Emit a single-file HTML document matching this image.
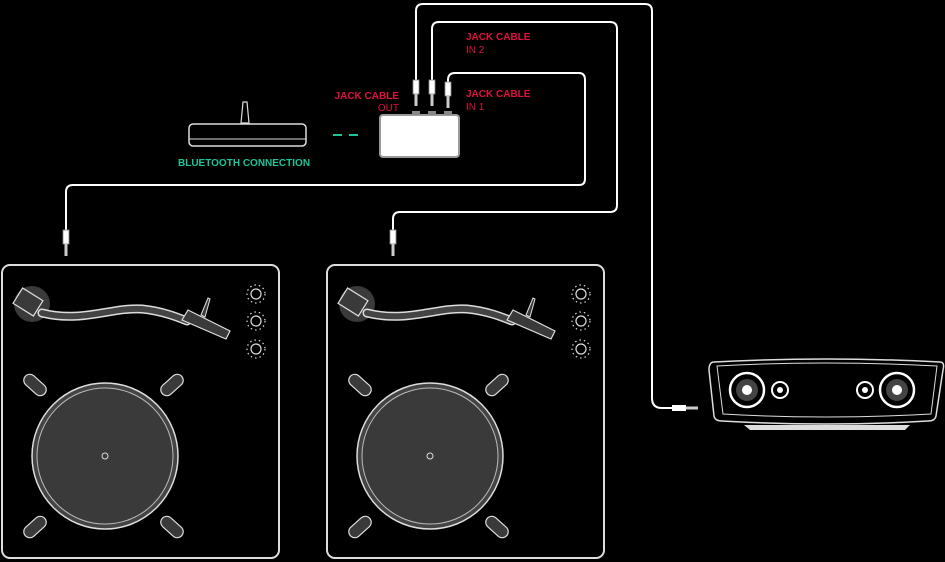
<!DOCTYPE html>
<html><head><style>
html,body{margin:0;padding:0;background:#000;width:945px;height:562px;overflow:hidden}
svg{display:block}
text{font-family:"Liberation Sans",sans-serif;font-weight:bold;font-size:10px}
</style></head><body>
<svg width="945" height="562" viewBox="0 0 945 562">
<defs>
<g id="tt">
  <rect x="0" y="0" width="277" height="293" rx="8" fill="#000" stroke="#ddd" stroke-width="2"/>
  <circle cx="30" cy="39" r="18" fill="#3a3a3a"/>
  <path d="M40 48 C80 58,110 42,140 44 C160 46,175 52,185 56" fill="none" stroke="#ddd" stroke-width="9" stroke-linecap="round"/>
  <path d="M40 48 C80 58,110 42,140 44 C160 46,175 52,185 56" fill="none" stroke="#444" stroke-width="6" stroke-linecap="round"/>
  <rect x="14" y="28" width="24" height="18" fill="#3a3a3a" stroke="#ddd" stroke-width="1.2" transform="rotate(32 26 37)"/>
  <polygon points="180,55 186,45 228,66 224,74" fill="#3a3a3a" stroke="#ddd" stroke-width="1.2"/>
  <polygon points="199,50 206,33 208,34 203,52" fill="#3a3a3a" stroke="#ddd" stroke-width="1"/>
  <g fill="none" stroke="#ddd" stroke-width="1.2">
    <circle cx="254" cy="29" r="5"/><circle cx="254" cy="56" r="5"/><circle cx="254" cy="84" r="5"/>
  </g>
  <g stroke="#ddd" stroke-width="1.2" stroke-dasharray="1.5 3">
    <circle cx="254" cy="29" r="9" fill="none"/><circle cx="254" cy="56" r="9" fill="none"/><circle cx="254" cy="84" r="9" fill="none"/>
  </g>
  <g fill="#3a3a3a" stroke="#ddd" stroke-width="1.2">
    <rect x="20" y="114" width="26" height="12" rx="6" transform="rotate(42 33 120)"/>
    <rect x="157" y="114" width="26" height="12" rx="6" transform="rotate(-42 170 120)"/>
    <rect x="20" y="256" width="26" height="12" rx="6" transform="rotate(-42 33 262)"/>
    <rect x="157" y="256" width="26" height="12" rx="6" transform="rotate(42 170 262)"/>
  </g>
  <circle cx="103" cy="191" r="73" fill="#444" stroke="#ddd" stroke-width="1.5"/>
  <circle cx="103" cy="191" r="68" fill="#3a3a3a" stroke="#bbb" stroke-width="1"/>
  <circle cx="103" cy="191" r="3" fill="none" stroke="#ddd" stroke-width="1"/>
</g>
<g id="jk">
  <rect x="-3" y="0" width="6" height="14" fill="#fff" stroke="#888" stroke-width="0.8"/>
  <rect x="-1.5" y="14" width="3" height="12" fill="#ccc"/>
</g>
</defs>

<use href="#tt" x="2" y="265"/>
<use href="#tt" x="327" y="265"/>

<g fill="none" stroke="#fff" stroke-width="2">
  <path d="M66 230 V192 Q66 185 73 185 H579 Q585 185 585 179 V80 Q585 73 579 73 H455 Q448 73 448 80 V82"/>
  <path d="M393 230 V219 Q393 212 400 212 H610 Q617 212 617 205 V29 Q617 22 610 22 H439 Q432 22 432 29 V80"/>
  <path d="M416 80 V11 Q416 4 423 4 H645 Q652 4 652 11 V398 Q652 408 662 408 H672"/>
</g>
<use href="#jk" x="66" y="230"/>
<use href="#jk" x="393" y="230"/>
<use href="#jk" x="416" y="80"/>
<use href="#jk" x="432" y="80"/>
<use href="#jk" x="448" y="82"/>
<rect x="672" y="405" width="14" height="6" fill="#fff"/>
<rect x="686" y="406.5" width="12" height="3" fill="#ccc"/>

<rect x="380" y="115" width="79" height="42" rx="3" fill="#fff" stroke="#999" stroke-width="2"/>
<rect x="412" y="111" width="8" height="4" fill="#888"/><rect x="428" y="111" width="8" height="4" fill="#888"/><rect x="444" y="111" width="8" height="4" fill="#888"/>

<polygon points="241,123 243,102 247,102 249,123" fill="#000" stroke="#ddd" stroke-width="1.2"/>
<rect x="189" y="124" width="117" height="22" rx="4" fill="#000" stroke="#ddd" stroke-width="1.5"/>
<line x1="189" y1="139" x2="306" y2="139" stroke="#ddd" stroke-width="1"/>
<g stroke="#1bc49a" stroke-width="2"><line x1="333" y1="135" x2="342" y2="135"/><line x1="349" y1="135" x2="358" y2="135"/></g>
<text x="178" y="166" fill="#1bc49a">BLUETOOTH CONNECTION</text>

<g fill="#e0103f">
<text x="399" y="99" text-anchor="end">JACK CABLE</text>
<text x="399" y="111" text-anchor="end" style="font-weight:normal">OUT</text>
<text x="466" y="40">JACK CABLE</text>
<text x="466" y="53" style="font-weight:normal">IN 2</text>
<text x="466" y="97">JACK CABLE</text>
<text x="466" y="110" style="font-weight:normal">IN 1</text>
</g>

<path d="M744 425 H910 L905 430 H750 Z" fill="#ddd"/>
<path d="M714 362 Q826 356 940 362 Q945 362 943 370 L936 416 Q935 421 928 421 Q826 427 722 421 Q715 421 714 416 L709 370 Q709 362 714 362 Z" fill="#000" stroke="#ddd" stroke-width="1.5"/>
<path d="M717 366 Q826 360 937 366 L931 414 Q826 420 723 414 Z" fill="none" stroke="#ddd" stroke-width="1"/>
<g>
<circle cx="747" cy="390" r="17" fill="#000" stroke="#fff" stroke-width="2.5"/><circle cx="747" cy="390" r="11" fill="#444"/><circle cx="747" cy="390" r="5" fill="#fff"/>
<circle cx="780" cy="390" r="8" fill="#000" stroke="#fff" stroke-width="2"/><circle cx="780" cy="390" r="3" fill="#fff"/>
<circle cx="865" cy="390" r="8" fill="#000" stroke="#fff" stroke-width="2"/><circle cx="865" cy="390" r="3" fill="#fff"/>
<circle cx="897" cy="390" r="17" fill="#000" stroke="#fff" stroke-width="2.5"/><circle cx="897" cy="390" r="11" fill="#444"/><circle cx="897" cy="390" r="5" fill="#fff"/>
</g>
</svg>
</body></html>
